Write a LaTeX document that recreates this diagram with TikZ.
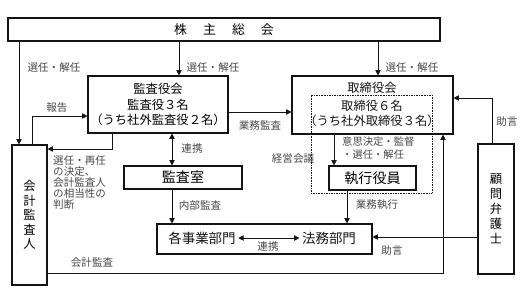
\documentclass[tikz,border=0pt]{standalone}
\usepackage{fontspec}
\usepackage{tikz}
\usetikzlibrary{arrows.meta,calc}
\newfontfamily\jp{Noto Sans CJK JP}
\definecolor{linea}{RGB}{20,20,20}
\definecolor{gristexto}{RGB}{70,70,70}

\begin{document}
\begin{tikzpicture}[x=0.03cm, y=-0.03cm,
  caja/.style={draw=linea, line width=0.9pt, inner sep=0pt,
               font=\jp\fontsize{11}{13}\selectfont, align=center},
  texto/.style={inner sep=0pt, font=\jp\fontsize{10.5}{13.2}\selectfont,
                align=center, text=linea},
  etiqueta/.style={inner sep=0pt, font=\jp\fontsize{9}{9.4}\selectfont,
                   text=gristexto},
  flecha/.style={-{Triangle[length=4.5pt,width=4.5pt]}, line width=0.8pt,
                 color=linea},
  doble/.style={{Triangle[length=4.5pt,width=4.5pt]}-{Triangle[length=4.5pt,width=4.5pt]},
                line width=0.8pt, color=linea}]
  \useasboundingbox (0,0) rectangle (527,302);
  % cajas
  \node[caja, minimum width=12.96cm, minimum height=0.69cm] (soukai) at (224,29.5)
       {株\hspace{0.48cm}主\hspace{0.48cm}総\hspace{0.48cm}会};
  \node[caja, minimum width=4.2cm, minimum height=1.71cm,
        font=\jp\fontsize{10.5}{13.4}\selectfont] (kansayakukai) at (158,104.5)
       {監査役会\\監査役３名\\（うち社外監査役２名）};
  \node[caja, minimum width=4.83cm, minimum height=1.74cm] (torishimari) at (372.5,105) {};
  \node[texto] (torititulo) at (372,88) {取締役会};
  \node[texto] (torimiembros) at (372,113.5) {取締役６名\\（うち社外取締役３名）};
  \node[draw=linea, line width=0.7pt, dash pattern=on 0.7pt off 0.7pt,
        minimum width=3.63cm, minimum height=2.94cm] (keiei) at (371.5,144) {};
  \node[caja, minimum width=2.61cm, minimum height=0.72cm,
        font=\jp\fontsize{12}{14}\selectfont] (shikkou) at (372.5,178) {執行役員};
  \node[caja, minimum width=3.54cm, minimum height=0.69cm,
        font=\jp\fontsize{12}{14}\selectfont] (kansashitsu) at (183,177.5) {監査室};
  \node[caja, minimum width=6.45cm, minimum height=0.9cm] (jigyou) at (264.5,239) {};
  \node[texto, font=\jp\fontsize{11.5}{13}\selectfont, inner sep=2pt] (kakujigyou) at (202,238) {各事業部門};
  \node[texto, font=\jp\fontsize{11.5}{13}\selectfont, inner sep=2pt] (houmu) at (329,238) {法務部門};
  \node[caja, minimum width=1.05cm, minimum height=4.2cm,
        font=\jp\fontsize{10.5}{12.4}\selectfont] (kaikei) at (29.5,215)
       {会\\計\\監\\査\\人};
  \node[caja, minimum width=1.08cm, minimum height=3.9cm,
        font=\jp\fontsize{10.5}{12.8}\selectfont] (komon) at (496,209)
       {顧\\問\\弁\\護\\士};
  % puntos de quiebre
  \coordinate (c1) at (19,0);
  \coordinate (c2) at (179,0);
  \coordinate (c3) at (378,0);
  \coordinate (c4) at (32,116);
  \coordinate (c5) at (112,149);
  \coordinate (c6) at (0,112);
  \coordinate (c7) at (172,0);
  \coordinate (c8) at (334,0);
  \coordinate (c9) at (347,0);
  \coordinate (c10) at (0,237);
  \coordinate (c11) at (492,98);
  \coordinate (c12) at (443,273);
  % flechas
  \draw[flecha] (c1 |- soukai.south) -- (c1 |- kaikei.north);
  \draw[flecha] (c2 |- soukai.south) -- (c2 |- kansayakukai.north);
  \draw[flecha] (c3 |- soukai.south) -- (c3 |- torishimari.north);
  \draw[flecha] (c4 |- kaikei.north) -- (c4) -- (c4 -| kansayakukai.west);
  \draw[flecha] (c5 |- kansayakukai.south) -- (c5) -- (c5 -| kaikei.east);
  \draw[flecha] (kansayakukai.east |- c6) -- (torishimari.west |- c6);
  \draw[doble] (c7 |- kansayakukai.south) -- (c7 |- kansashitsu.north);
  \draw[flecha] (c7 |- kansashitsu.south) -- (c7 |- jigyou.north);
  \draw[flecha] (c8 |- torishimari.south) -- (c8 |- shikkou.north);
  \draw[flecha] (c9 |- shikkou.south) -- (c9 |- jigyou.north);
  \draw[doble] (kakujigyou.east) -- (houmu.west);
  \draw[flecha] (komon.west |- c10) -- (jigyou.east |- c10);
  \draw[flecha] (c11 |- komon.north) -- (c11) -- (c11 -| torishimari.east);
  \draw[flecha] (kaikei.east |- c12) -- (c12) -- (c12 |- torishimari.south);
  % rotulos
  \node[etiqueta] (e1) at (54,67) {選任・解任};
  \node[etiqueta] (e2) at (213,67) {選任・解任};
  \node[etiqueta] (e3) at (412,67) {選任・解任};
  \node[etiqueta] (e4) at (57,108) {報告};
  \node[etiqueta] (e5) at (260,125) {業務監査};
  \node[etiqueta] (e6) at (192,148) {連携};
  \node[etiqueta, anchor=north west, align=left, font=\jp\fontsize{9}{9.4}\selectfont]
       (e7) at (53,155) {選任・再任\\の決定、\\会計監査人\\の相当性の\\判断};
  \node[etiqueta] (e8) at (293,159) {経営会議};
  \node[etiqueta, anchor=north west, align=left, font=\jp\fontsize{8.8}{10.5}\selectfont]
       (e9) at (342,137) {意思決定・監督\\・選任・解任};
  \node[etiqueta] (e10) at (200,205) {内部監査};
  \node[etiqueta] (e11) at (377,205) {業務執行};
  \node[etiqueta] (e12) at (268,246) {連携};
  \node[etiqueta] (e13) at (392,250) {助言};
  \node[etiqueta] (e14) at (507,122) {助言};
  \node[etiqueta] (e15) at (92,263) {会計監査};
\end{tikzpicture}
\end{document}
